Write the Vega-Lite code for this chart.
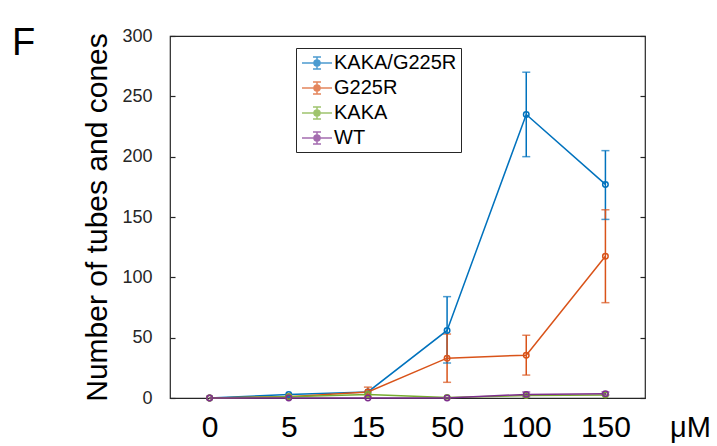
{
  "$schema": "https://vega.github.io/schema/vega-lite/v6.json",
  "width": 475,
  "height": 362,
  "autosize": {"type": "none"},
  "padding": {"left": 170, "top": 36, "right": 72, "bottom": 48},
  "background": "white",
  "title": {"text": "F", "anchor": "start", "frame": "group", "dx": -158, "dy": 36, "fontSize": 38, "fontWeight": "normal", "font": "Liberation Sans", "color": "black", "offset": 0},
  "config": {
    "view": {"stroke": "#262626", "strokeWidth": 1.2},
    "font": "Liberation Sans",
    "axis": {"grid": false, "domain": false, "tickColor": "#262626", "tickWidth": 1.2, "tickSize": -5, "labelColor": "#262626"}
  },
  "data": {"values": [
    {"series": "KAKA/G225R", "conc": "0", "value": 0},
    {"series": "KAKA/G225R", "conc": "5", "value": 3},
    {"series": "KAKA/G225R", "conc": "15", "value": 5},
    {"series": "KAKA/G225R", "conc": "50", "value": 56, "lo": 29, "hi": 84},
    {"series": "KAKA/G225R", "conc": "100", "value": 235, "lo": 200, "hi": 270},
    {"series": "KAKA/G225R", "conc": "150", "value": 177, "lo": 148, "hi": 205},
    {"series": "G225R", "conc": "0", "value": 0},
    {"series": "G225R", "conc": "5", "value": 1},
    {"series": "G225R", "conc": "15", "value": 5, "lo": 1, "hi": 9},
    {"series": "G225R", "conc": "50", "value": 33, "lo": 13, "hi": 53},
    {"series": "G225R", "conc": "100", "value": 35.5, "lo": 19, "hi": 52},
    {"series": "G225R", "conc": "150", "value": 117.5, "lo": 79, "hi": 156},
    {"series": "KAKA", "conc": "0", "value": 0},
    {"series": "KAKA", "conc": "5", "value": 1},
    {"series": "KAKA", "conc": "15", "value": 3},
    {"series": "KAKA", "conc": "50", "value": 0.5},
    {"series": "KAKA", "conc": "100", "value": 2},
    {"series": "KAKA", "conc": "150", "value": 2.5},
    {"series": "WT", "conc": "0", "value": 0},
    {"series": "WT", "conc": "5", "value": 0},
    {"series": "WT", "conc": "15", "value": 0},
    {"series": "WT", "conc": "50", "value": 0},
    {"series": "WT", "conc": "100", "value": 3, "lo": 1, "hi": 5},
    {"series": "WT", "conc": "150", "value": 3.5, "lo": 2.5, "hi": 5}
  ]},
  "encoding": {
    "x": {"field": "conc", "type": "ordinal", "sort": ["0", "5", "15", "50", "100", "150"],
      "scale": {"type": "point", "padding": 0.5},
      "axis": {"title": "μM", "titleFontSize": 29, "titleFontWeight": "normal", "titleColor": "black", "titleX": 520, "titleY": 38, "titleAlign": "center", "titleBaseline": "alphabetic", "labelFontSize": 30, "labelColor": "black", "labelPadding": 14, "labelAngle": 0, "ticks": false}},
    "color": {"field": "series", "type": "nominal",
      "scale": {"domain": ["KAKA/G225R", "G225R", "KAKA", "WT"], "range": ["#0072BD", "#D95319", "#77AC30", "#7E2F8E"]},
      "legend": {"title": null, "orient": "none", "legendX": 126, "legendY": 12, "direction": "vertical",
        "symbolType": "M-1.5,0H1.5M0,-0.6V0.6M-0.4,-0.6H0.4M-0.4,0.6H0.4M-0.3,0A0.3,0.3 0 1,0 0.3,0A0.3,0.3 0 1,0 -0.3,0",
        "symbolSize": 400, "symbolStrokeWidth": 1.5, "symbolFillColor": "transparent", "symbolOffset": 6,
        "labelFontSize": 20, "labelColor": "black", "labelOffset": 6, "rowPadding": 4, "padding": 4,
        "strokeColor": "#262626", "fillColor": "white"}}
  },
  "layer": [
    {
      "layer": [
        {"mark": {"type": "rule", "strokeWidth": 1.5}, "encoding": {"y": {"field": "lo", "type": "quantitative"}, "y2": {"field": "hi"}}},
        {"mark": {"type": "tick", "orient": "horizontal", "size": 8, "thickness": 1.5}, "encoding": {"y": {"field": "lo", "type": "quantitative"}}},
        {"mark": {"type": "tick", "orient": "horizontal", "size": 8, "thickness": 1.5}, "encoding": {"y": {"field": "hi", "type": "quantitative"}}},
        {"mark": {"type": "line", "strokeWidth": 1.5, "point": {"filled": false, "size": 30, "strokeWidth": 1.5}},
          "encoding": {"y": {"field": "value", "type": "quantitative",
            "scale": {"domain": [0, 300], "nice": false},
            "axis": {"title": "Number of tubes and cones", "titleFontSize": 30, "titleFontWeight": "normal", "titleColor": "black", "titlePadding": 9,
              "values": [0, 50, 100, 150, 200, 250, 300], "labelFontSize": 18, "labelPadding": 23}}}}
      ]
    },
    {"mark": {"type": "point", "opacity": 0},
      "encoding": {"y": {"field": "value", "type": "quantitative", "scale": {"domain": [0, 300], "nice": false},
        "axis": {"orient": "right", "labels": false, "title": null, "values": [0, 50, 100, 150, 200, 250, 300]}}}}
  ],
  "resolve": {"scale": {"y": "independent"}, "axis": {"y": "independent"}}
}
